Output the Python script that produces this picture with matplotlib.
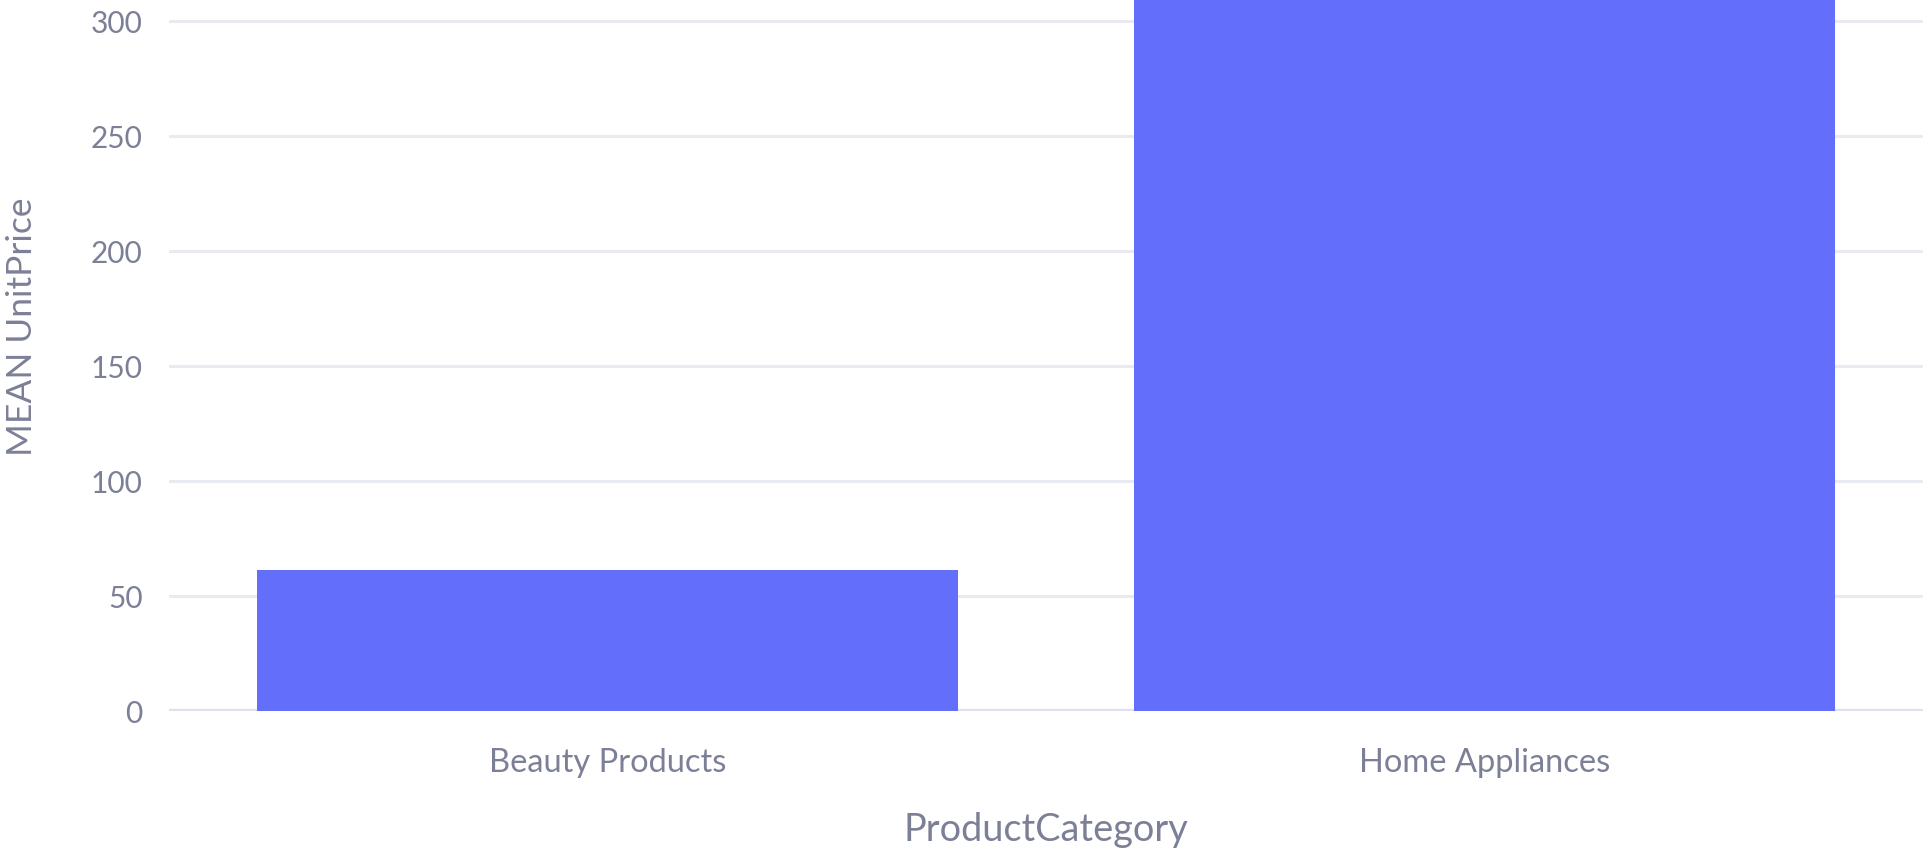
import matplotlib
matplotlib.use("Agg")
import matplotlib.pyplot as plt

categories = ["Beauty Products", "Home Appliances"]
mean_unit_price = [61.3, 320.0]
y_ticks = [0, 50, 100, 150, 200, 250, 300]

W, H = 1926, 853
fig = plt.figure(figsize=(W / 100, H / 100), dpi=100)
plt.rcParams['font.family'] = ['Lato', 'DejaVu Sans']

text_color = "#7c8096"
grid_color = "#e8ebf1"

left_px, right_px, zero_px = 169, 1923, 711.7
ax = fig.add_axes([left_px / W, 1 - zero_px / H, (right_px - left_px) / W, zero_px / H])

x = list(range(len(categories)))
ax.bar(x, mean_unit_price, width=0.8, color="#636EFA", zorder=3)

ax.set_xlim(-0.5, len(categories) - 0.5)
ax.set_ylim(0, 309.4)
ax.set_yticks(y_ticks)
ax.set_yticklabels([str(v) for v in y_ticks])
ax.set_xticks(x)
ax.set_xticklabels(categories)

for s in ax.spines.values():
    s.set_visible(False)
ax.grid(axis="y", color=grid_color, linewidth=2.2, zorder=0)
ax.grid(axis="x", visible=False)
ax.axhline(0, color="#dee2ea", linewidth=3.8, zorder=2)

ax.tick_params(axis="both", length=0, colors=text_color)
ax.tick_params(axis="y", pad=19, labelsize=21.5)
ax.tick_params(axis="x", pad=26, labelsize=23.5)

fig.text(1046 / W, 1 - 830 / H, "ProductCategory", ha="center", va="center",
         fontsize=27.3, color=text_color)
fig.text(22 / W, 1 - 327 / H, "MEAN UnitPrice", ha="center", va="center",
         rotation=90, fontsize=25.5, color=text_color)

fig.savefig("out.png", dpi=100)
